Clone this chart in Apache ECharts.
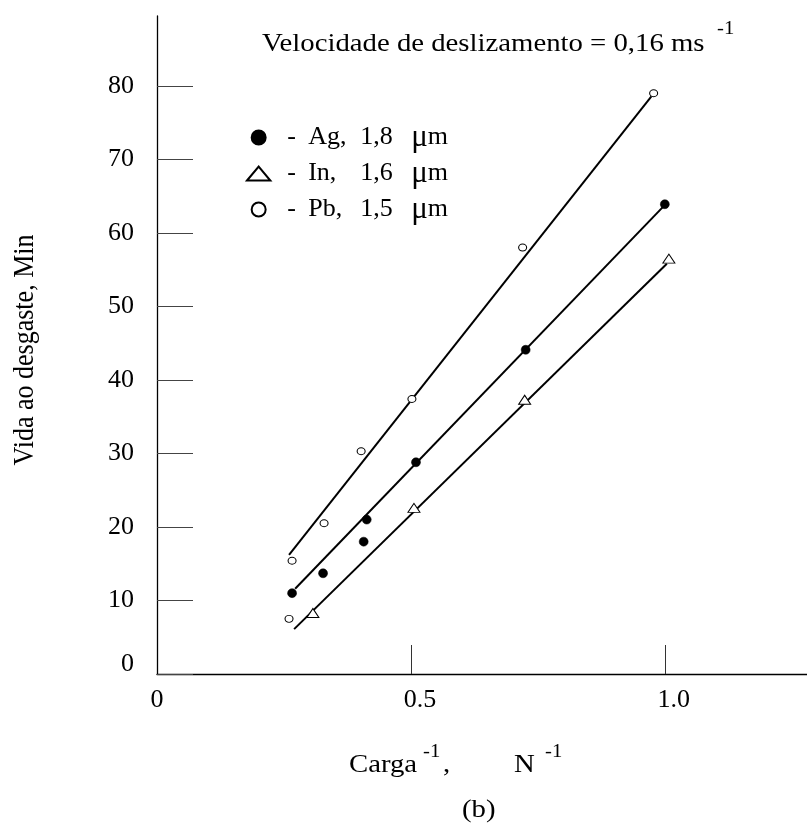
<!DOCTYPE html>
<html>
<head>
<meta charset="utf-8">
<script src="https://cdn.jsdelivr.net/npm/echarts@6/dist/echarts.min.js"></script>
<style>html,body{margin:0;padding:0;background:#fff}#c{width:807px;height:823px}</style>
</head>
<body>
<div id="c"></div>
<script>
// ---- data ----
const agPoints = [[0.266,11.0],[0.327,13.7],[0.407,18.0],[0.413,21.0],[0.510,28.8],[0.726,44.1],[1.000,63.9]];
const inPoints = [[0.307,8.3],[0.506,22.6],[0.724,37.3],[1.008,56.5]];
const pbPoints = [[0.260,7.5],[0.266,15.4],[0.329,20.5],[0.402,30.3],[0.502,37.4],[0.720,58.0],[0.978,79.0]];
const agFit = [[0.272,11.6],[0.996,63.5]];
const inFit = [[0.270,6.1],[1.004,55.8]];
const pbFit = [[0.260,16.2],[0.974,78.6]];
const xTickValues = [0.5, 1.0];
const xLabelValues = [0, 0.5, 1.0];
const yTickValues = [0,10,20,30,40,50,60,70,80];
const legendNames = ['Ag','In','Pb'];
const legendSizes = {Ag:'1,8', In:'1,6', Pb:'1,5'};

const SERIF = '"Liberation Serif", "Times New Roman", serif';
const chart = echarts.init(document.getElementById('c'), null, {renderer:'canvas'});

const lineStyle = {color:'#000', width:2};
const option = {
  backgroundColor:'#fff',
  animation:false,
  grid:{left:157, right:0, top:16, bottom:149, containLabel:false},
  xAxis:{
    type:'value', min:0, max:1.28,
    axisLine:{show:true, onZero:false, lineStyle:{color:'#000', width:1.3}},
    splitLine:{show:false},
    axisTick:{show:true, inside:true, length:29, customValues:xTickValues, lineStyle:{color:'#333', width:1}},
    axisLabel:{
      show:true, margin:13, customValues:xLabelValues, color:'#000',
      fontFamily:SERIF, fontSize:26,
      formatter:function(v){ return v===0 ? '0' : '{s|'+v.toFixed(1)+'}'; },
      rich:{s:{fontFamily:SERIF, fontSize:26, color:'#000', padding:[0,0,0,18]}}
    }
  },
  yAxis:{
    type:'value', min:0, max:89.5,
    axisLine:{show:true, onZero:false, lineStyle:{color:'#000', width:1.3}},
    splitLine:{show:false},
    axisTick:{show:true, inside:true, length:36, customValues:yTickValues, lineStyle:{color:'#444', width:1}},
    axisLabel:{
      show:true, margin:23, customValues:yTickValues, color:'#000',
      fontFamily:SERIF, fontSize:26,
      formatter:function(v){ return v===0 ? '{z|0}' : String(v); },
      rich:{z:{fontFamily:SERIF, fontSize:26, color:'#000', padding:[0,0,20,0]}}
    }
  },
  legend:{
    data:[
      {name:'Ag', icon:'circle'},
      {name:'In', icon:'path://M0,15L12.5,0L25,15Z'},
      {name:'Pb', icon:'circle'}
    ],
    orient:'vertical', left:241, top:117, itemWidth:25, itemHeight:14, itemGap:5,
    selectedMode:false,
    formatter:function(n){ return '{p| }{d|-}{n|'+n+',}{v|'+legendSizes[n]+'}{mu|\u03bc}{m|m}'; },
    textStyle:{
      fontFamily:SERIF, fontSize:26, color:'#000', lineHeight:26,
      rich:{
        p:{width:11, fontFamily:SERIF, fontSize:26, lineHeight:26},
        d:{width:21, fontFamily:SERIF, fontSize:26, lineHeight:26},
        n:{width:52, fontFamily:SERIF, fontSize:26, lineHeight:26},
        v:{width:51, fontFamily:SERIF, fontSize:26, lineHeight:26},
        mu:{fontFamily:SERIF, fontSize:31, lineHeight:26},
        m:{fontFamily:SERIF, fontSize:26, lineHeight:26}
      }
    }
  },
  series:[
    {name:'Ag fit', type:'line', data:agFit, showSymbol:false, symbol:'none', lineStyle:lineStyle, z:2, silent:true},
    {name:'In fit', type:'line', data:inFit, showSymbol:false, symbol:'none', lineStyle:lineStyle, z:2, silent:true},
    {name:'Pb fit', type:'line', data:pbFit, showSymbol:false, symbol:'none', lineStyle:lineStyle, z:2, silent:true},
    {name:'Ag', type:'scatter', data:agPoints, symbol:'circle', symbolSize:9, z:5,
      itemStyle:{color:'#000', borderColor:'#000', borderWidth:0.5, opacity:1}},
    {name:'In', type:'scatter', data:inPoints, symbol:'triangle', symbolSize:[12,9], z:5,
      itemStyle:{color:'#fff', borderColor:'#000', borderWidth:1, opacity:1}},
    {name:'Pb', type:'scatter', data:pbPoints, symbol:'circle', symbolSize:[8,7], z:5,
      itemStyle:{color:'#fff', borderColor:'#000', borderWidth:1, opacity:1}}
  ],
  graphic:[
    {type:'text', x:262, y:44, scaleX:1.15, style:{text:'Velocidade de deslizamento = 0,16 ms', font:'25px '+SERIF, fill:'#000', textAlign:'left', textVerticalAlign:'middle'}},
    {type:'text', x:717, y:29, scaleX:1.15, style:{text:'-1', font:'18px '+SERIF, fill:'#000', textAlign:'left', textVerticalAlign:'middle'}},
    {type:'text', x:25, y:350, rotation:Math.PI/2, scaleY:1.15, style:{text:'Vida ao desgaste, Min', font:'26px '+SERIF, fill:'#000', textAlign:'center', textVerticalAlign:'middle'}},
    {type:'text', x:349, y:765, scaleX:1.15, style:{text:'Carga', font:'25px '+SERIF, fill:'#000', textAlign:'left', textVerticalAlign:'middle'}},
    {type:'text', x:423, y:752, scaleX:1.15, style:{text:'-1', font:'18px '+SERIF, fill:'#000', textAlign:'left', textVerticalAlign:'middle'}},
    {type:'text', x:443, y:765, scaleX:1.15, style:{text:',', font:'25px '+SERIF, fill:'#000', textAlign:'left', textVerticalAlign:'middle'}},
    {type:'text', x:514, y:765, scaleX:1.15, style:{text:'N', font:'25px '+SERIF, fill:'#000', textAlign:'left', textVerticalAlign:'middle'}},
    {type:'text', x:545, y:752, scaleX:1.15, style:{text:'-1', font:'18px '+SERIF, fill:'#000', textAlign:'left', textVerticalAlign:'middle'}},
    {type:'text', x:462, y:810, scaleX:1.15, style:{text:'(b)', font:'25px '+SERIF, fill:'#000', textAlign:'left', textVerticalAlign:'middle'}}
  ]
};
chart.setOption(option);
</script>
</body>
</html>
